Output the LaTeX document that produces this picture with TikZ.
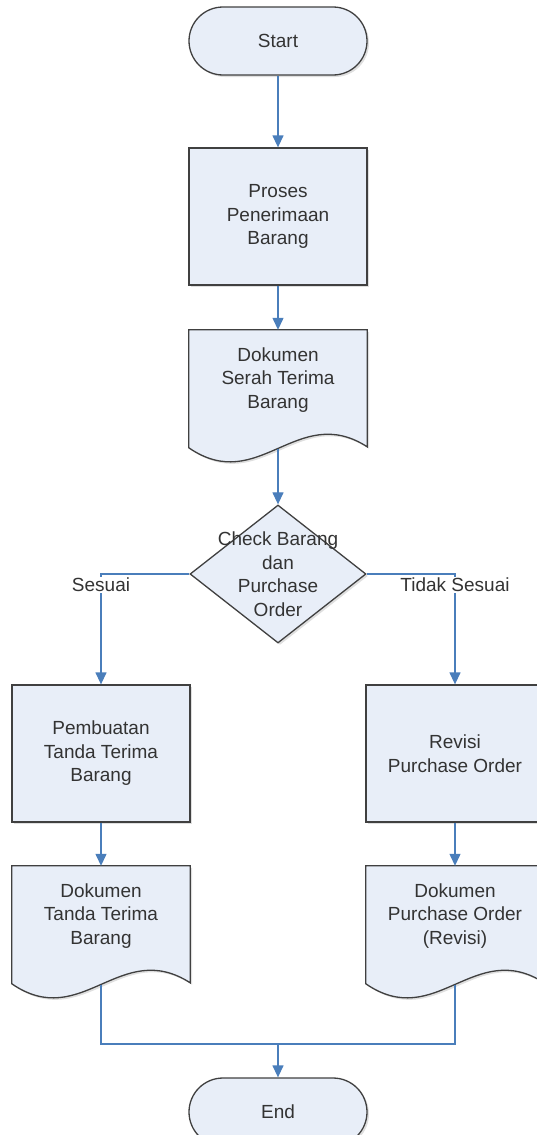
\documentclass[tikz,border=0pt]{standalone}
\usepackage{fontspec}
\setmainfont{Liberation Sans}
\usetikzlibrary{arrows.meta, shapes.geometric, calc, shadows, backgrounds}

\definecolor{boxfill}{HTML}{E8EEF8}
\definecolor{boxline}{HTML}{404040}
\definecolor{flowblue}{HTML}{4A7EBB}
\definecolor{textgray}{HTML}{333333}

% wavy bottom of a document symbol, drawn behind the node text
\newcommand{\docoutline}[1]{%
  \begin{pgfonlayer}{background}
    \draw[boxshape] (#1.north west) -- (#1.north east) -- ($(#1.north east)+(0,117)$)
      .. controls +(-70,-45) and +(70,48) .. ($(#1.north west)+(0,118)$) -- cycle;
  \end{pgfonlayer}
  \coordinate (#1-b) at ($(#1.north)+(0,119)$);
}

\begin{document}
\begin{tikzpicture}[x=1pt, y=-1pt, >={Triangle[length=12pt,width=11pt]},
    font=\fontsize{19}{23.5}\selectfont, text=textgray,
    boxshape/.style={draw=boxline, fill=boxfill, line width=1.3pt,
      drop shadow={shadow xshift=2pt, shadow yshift=-2pt, opacity=0.25}},
    term/.style={boxshape, rounded corners=34pt, minimum width=178pt, minimum height=68pt},
    procbox/.style={boxshape, minimum width=178pt, minimum height=137pt, align=center},
    docbox/.style={minimum width=178pt, minimum height=100pt, align=center, inner sep=0pt},
    decision/.style={boxshape, diamond, minimum width=176pt, minimum height=138pt, inner sep=0pt},
    line/.style={draw=flowblue, line width=1.3pt},
    flow/.style={line, ->},
    lbl/.style={fill=white, inner sep=1.5pt}]
  \useasboundingbox (0,0) rectangle (537,1135);
  \clip (0,0) rectangle (537,1135);

  % main column
  \node[term] (start) at (278,41) {Start};
  \node[procbox] (terima) at (278,216.5) {Proses\\Penerimaan\\Barang};
  \node[docbox] (serah) at (278,380) {Dokumen\\Serah Terima\\Barang};
  \docoutline{serah}
  \node[decision] (check) at (278,574) {};
  \node[align=center] (checktxt) at (check) {Check Barang\\dan\\Purchase\\Order};

  % the two branches
  \node[procbox] (tanda) at (101,753.5) {Pembuatan\\Tanda Terima\\Barang};
  \node[procbox] (revisi) at (455,753.5) {Revisi\\Purchase Order};
  \node[docbox] (doktanda) at (101,916) {Dokumen\\Tanda Terima\\Barang};
  \docoutline{doktanda}
  \node[docbox] (dokrevisi) at (455,916) {Dokumen\\Purchase Order\\(Revisi)};
  \docoutline{dokrevisi}

  \node[term] (end) at (278,1112) {End};
  \coordinate (merge) at (278,1044);

  % connectors
  \draw[flow] (start) -- (terima);
  \draw[flow] (terima) -- (serah);
  \draw[flow] (serah-b) -- (check);
  \draw[flow] (check.west) -| node[lbl, yshift=-11pt] {Sesuai} (tanda.north);
  \draw[flow] (check.east) -| node[lbl, yshift=-11pt] {Tidak Sesuai} (revisi.north);
  \draw[flow] (tanda) -- (doktanda);
  \draw[flow] (revisi) -- (dokrevisi);
  \draw[line] (doktanda-b) |- (merge) -| (dokrevisi-b);
  \draw[flow] (merge) -- (end);
\end{tikzpicture}
\end{document}
